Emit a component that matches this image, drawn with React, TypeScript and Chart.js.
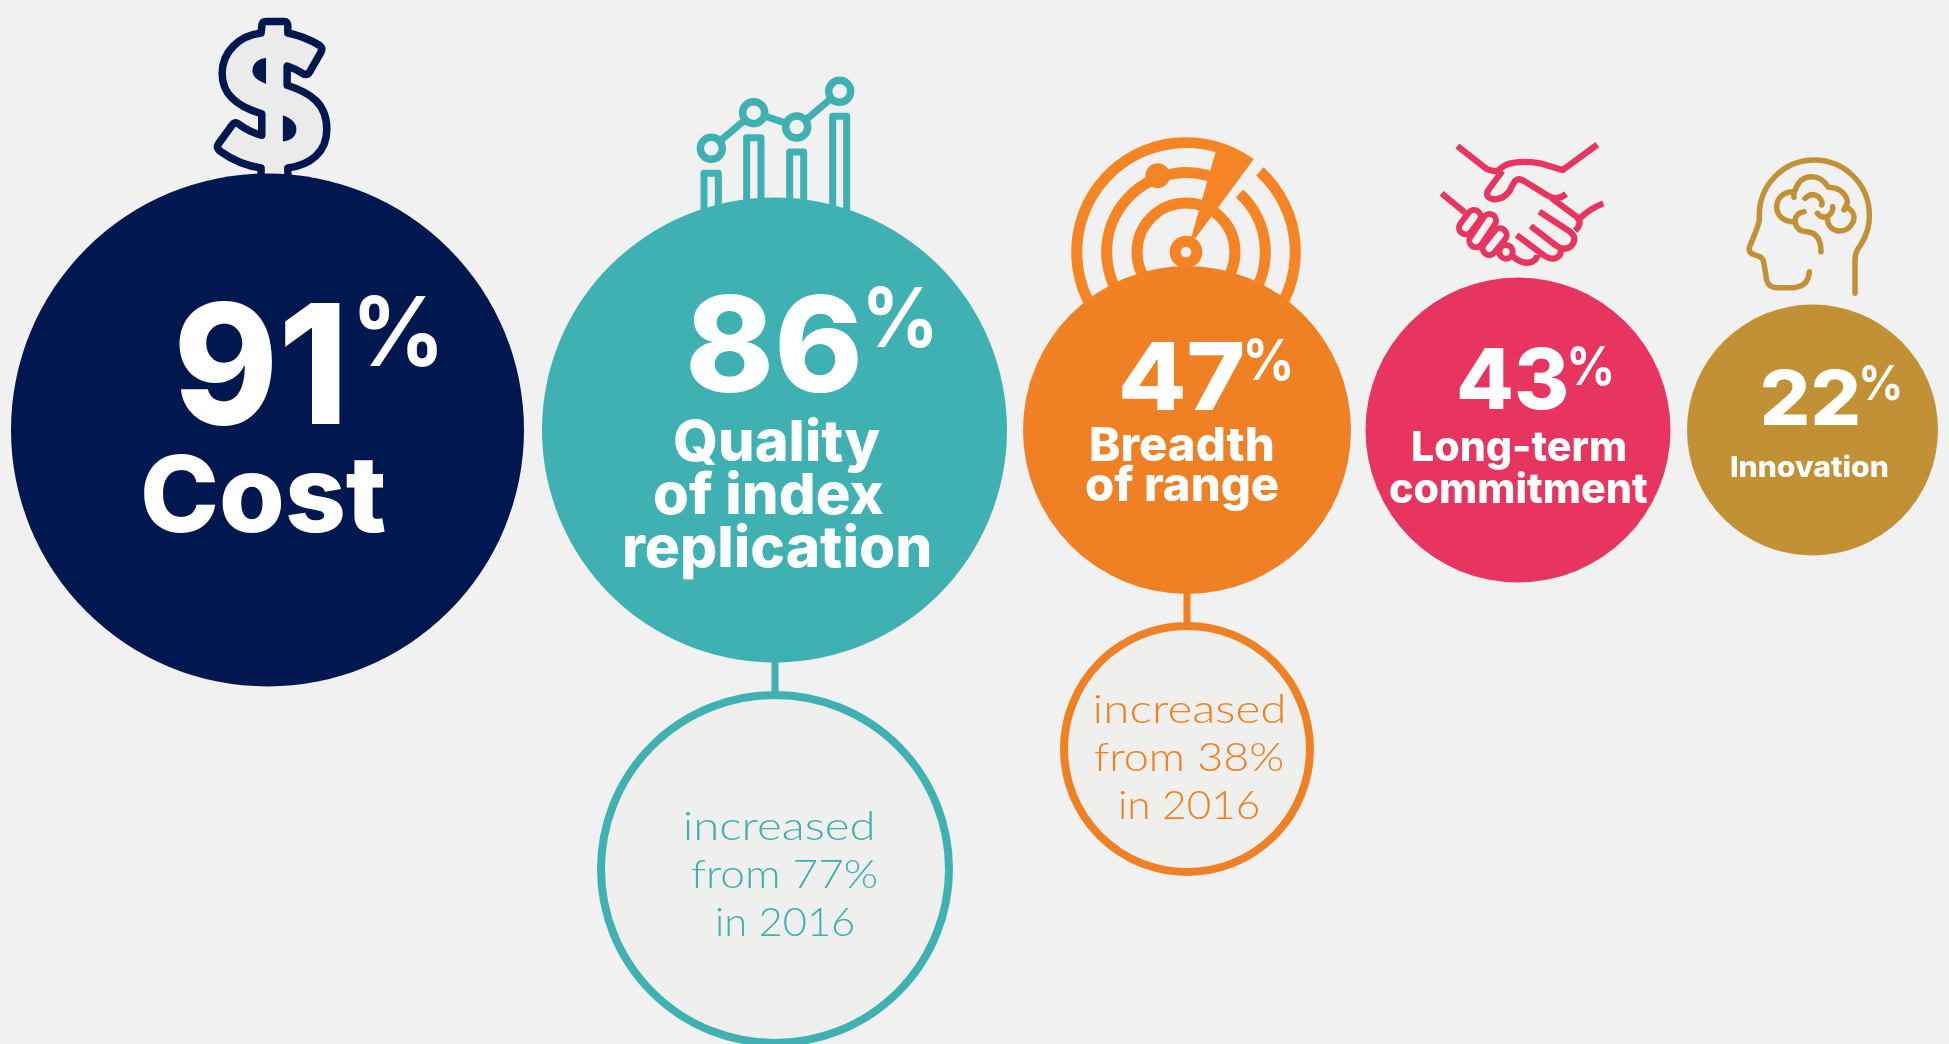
import React, { useEffect, useRef } from "react";
import { Chart, registerables } from "chart.js";

Chart.register(...registerables);

// ---- data ----
const categories = ["Cost", "Quality of index replication", "Breadth of range", "Long-term commitment", "Innovation"];
const shares2018 = [91, 86, 47, 43, 22];
const labelLines = [["Cost"], ["Quality", "of index", "replication"], ["Breadth", "of range"], ["Long-term", "commitment"], ["Innovation"]];
const previousCategories = ["Quality of index replication", "Breadth of range"];
const previousShares = [77, 38];
const previousYear = 2016;

// ---- layout & style ----
const W = 1949;
const H = 1044;
const BG = "#f1f1f1";
const colours = ["#00174f", "#40b1b2", "#ef8024", "#e8355f", "#c29136"];
const centreX = [267.5, 774.5, 1187, 1518, 1812.5];
const centreY = 430;
const radii = [256.5, 232.5, 164, 152.5, 125.5];
const prevCentre = [{ x: 775, y: 869 }, { x: 1187, y: 749 }];
const prevRadius = [174, 123];
const prevStroke = 8;
const prevFill = "#efefed";
const prevColours = [colours[1], colours[2]];

const DISPLAY = 'Inter, "Open Sans", sans-serif';
const LIGHT = 'Lato, "Open Sans", sans-serif';

type Box = { l: number; r: number; b: number; s: number };
const valueBoxes: Box[] = [
  { l: 179, r: 340, b: 424, s: 167 },
  { l: 690, r: 858, b: 392, s: 133 },
  { l: 1122, r: 1243, b: 410, s: 94 },
  { l: 1459, r: 1566, b: 409, s: 84 },
  { l: 1763, r: 1858, b: 425, s: 75 },
];
const pctBoxes: Box[] = [
  { l: 359, r: 437, b: 366, s: 96 },
  { l: 868, r: 932, b: 347, s: 82 },
  { l: 1247, r: 1290, b: 380, s: 56 },
  { l: 1570, r: 1611, b: 385, s: 53 },
  { l: 1862, r: 1900, b: 400, s: 48 },
];
const labelBoxes: Box[][] = [
  [{ l: 144, r: 385, b: 532, s: 106 }],
  [
    { l: 675, r: 880, b: 461, s: 57 },
    { l: 655, r: 883, b: 514, s: 57 },
    { l: 625, r: 929, b: 567, s: 57 },
  ],
  [
    { l: 1091, r: 1273, b: 461, s: 47 },
    { l: 1086, r: 1278, b: 501, s: 47 },
  ],
  [
    { l: 1413, r: 1625, b: 461, s: 41 },
    { l: 1390, r: 1647, b: 503, s: 41 },
  ],
  [{ l: 1731, r: 1888, b: 477, s: 28 }],
];
const prevBoxes: Box[][] = [
  [
    { l: 685, r: 872, b: 840, s: 40 },
    { l: 692, r: 877, b: 888, s: 40 },
    { l: 717, r: 853, b: 936, s: 40 },
  ],
  [
    { l: 1095, r: 1283, b: 723, s: 40 },
    { l: 1095, r: 1283, b: 771, s: 40 },
    { l: 1120, r: 1258, b: 819, s: 40 },
  ],
];

function fitText(ctx: CanvasRenderingContext2D, text: string, box: Box, font: string, colour: string) {
  ctx.save();
  ctx.font = `${font.split("|")[0]} ${box.s}px ${font.split("|")[1]}`;
  ctx.fillStyle = colour;
  ctx.textAlign = "left";
  ctx.textBaseline = "alphabetic";
  const m = ctx.measureText(text);
  const inkL = -m.actualBoundingBoxLeft;
  const inkW = m.actualBoundingBoxRight + m.actualBoundingBoxLeft;
  const sx = (box.r - box.l) / inkW;
  ctx.translate(box.l - inkL * sx, box.b);
  ctx.scale(sx, 1);
  ctx.fillText(text, 0, 0);
  ctx.restore();
}

// ---- pictograms above the bubbles (decoration, in crop coordinates) ----
function xf(d: string, ox: number, oy: number, sx: number, sy: number) {
  const p = new Path2D();
  p.addPath(new Path2D(d), new DOMMatrix([sx, 0, 0, sy, ox, oy]));
  return p;
}

function drawDollar(ctx: CanvasRenderingContext2D) {
  const c = colours[0];
  const k = (d: string) => xf(d, 0, 0, 1 / 2.8, 1 / 2.24);
  const body = k(
    "M733,60 Q733,48 745,48 L795,48 Q806,48 806,60 L806,74 Q855,82 895,102 Q905,108 898,118 L868,160 Q860,170 848,165 Q825,153 804,148 L804,191 C870,208 915,232 915,290 C915,340 870,370 806,376 L806,420 L731,420 L731,376 C690,372 650,358 615,338 Q605,330 612,322 L650,280 Q658,272 668,278 Q700,297 733,303 L733,255 C670,240 622,215 622,165 C622,115 670,80 731,74 Z",
  );
  ctx.fillStyle = "#ebebeb";
  ctx.fill(body);
  ctx.strokeStyle = c;
  ctx.lineWidth = 7.5;
  ctx.lineJoin = "round";
  ctx.stroke(body);
  ctx.fillStyle = c;
  ctx.fill(k("M745,130 L745,188 C720,180 707,172 707,158 C707,142 722,132 745,130 Z"));
  ctx.fill(k("M792,258 L792,317 C815,315 830,305 830,290 C830,274 815,265 792,258 Z"));
}

function drawChartIcon(ctx: CanvasRenderingContext2D) {
  const k = (d: string) => xf(d, 660, 70, 1 / 3, 1 / 3);
  ctx.strokeStyle = colours[1];
  ctx.lineWidth = 7;
  ctx.lineJoin = "round";
  ctx.lineCap = "butt";
  ctx.stroke(k("M132,450 L132,310 L175,310 L175,450"));
  ctx.stroke(k("M260,450 L260,203 L303,203 L303,450"));
  ctx.stroke(k("M389,450 L389,246 L431,246 L431,450"));
  ctx.stroke(k("M518,450 L518,139 L560,139 L560,450"));
  ctx.stroke(k("M180,213 L255,150 M310,137 L380,160 M437,150 L513,86"));
  ctx.lineWidth = 7.5;
  for (const [x, y] of [[154, 235], [281, 128], [410, 171], [539, 64]]) {
    ctx.beginPath();
    ctx.arc(660 + x / 3, 70 + y / 3, 11, 0, Math.PI * 2);
    ctx.stroke();
  }
}

function drawRadar(ctx: CanvasRenderingContext2D) {
  const c = "#f58524";
  const cx = 1050 + 408 / 3;
  const cy = 120 + 396 / 3;
  const rad = (d: number) => (d * Math.PI) / 180;
  ctx.strokeStyle = c;
  ctx.fillStyle = c;
  ctx.lineWidth = 11;
  ctx.lineCap = "butt";
  ctx.beginPath();
  ctx.arc(cx, cy, 328 / 3, rad(-47.5), rad(-54.5));
  ctx.stroke();
  ctx.beginPath();
  ctx.arc(cx, cy, 238 / 3, rad(-47.5), rad(-62));
  ctx.stroke();
  for (const r of [147, 32.5]) {
    ctx.beginPath();
    ctx.arc(cx, cy, r / 3, 0, Math.PI * 2);
    ctx.stroke();
  }
  ctx.fill(xf("M424,352 L497,95 L560,95 L611,118 L437,354 Z", 1050, 120, 1 / 3, 1 / 3));
  ctx.beginPath();
  ctx.arc(1050 + 323 / 3, 120 + 167 / 3, 37 / 3, 0, Math.PI * 2);
  ctx.fill();
}

function drawHandshake(ctx: CanvasRenderingContext2D) {
  const c = colours[3];
  const k = (d: string) => xf(d, 1420, 120, 1 / 3, 1 / 3);
  ctx.strokeStyle = c;
  ctx.lineJoin = "round";
  ctx.lineCap = "butt";
  ctx.lineWidth = 6.3;
  ctx.stroke(k("M112,78 L195,143 Q210,155 240,153"));
  ctx.stroke(k("M225,160 Q245,140 262,133 Q300,120 360,130 L428,150 L532,74"));
  ctx.stroke(k("M247,153 L205,210 Q192,235 225,238 Q260,235 275,200 L285,183 Q297,172 315,185 L380,225 Q410,245 438,222"));
  ctx.stroke(k("M395,235 L470,290 Q490,310 465,332 M480,295 Q510,265 550,250"));
  ctx.stroke(k("M358,275 L450,335 Q475,355 452,380 Q432,393 410,378 L332,318"));
  ctx.stroke(k("M422,388 Q425,405 410,413 Q395,422 370,405 L290,345"));
  ctx.stroke(k("M352,405 Q350,425 325,428 Q310,430 290,418 L278,408"));
  ctx.stroke(k("M65,220 L135,278"));
  const caps = [
    [162, 290, 137, 323],
    [208, 302, 168, 362],
    [240, 345, 208, 385],
    [258, 395, 258, 396],
  ];
  ctx.lineCap = "round";
  ctx.lineWidth = 58 / 3;
  ctx.beginPath();
  for (const [a, b, d, e] of caps) {
    ctx.moveTo(1420 + a / 3, 120 + b / 3);
    ctx.lineTo(1420 + d / 3, 120 + e / 3);
  }
  ctx.stroke();
  ctx.strokeStyle = BG;
  ctx.lineWidth = 22 / 3;
  ctx.beginPath();
  for (const [a, b, d, e] of caps) {
    ctx.moveTo(1420 + a / 3, 120 + b / 3);
    ctx.lineTo(1420 + d / 3, 120 + e / 3);
  }
  ctx.stroke();
}

function drawBrain(ctx: CanvasRenderingContext2D) {
  const k = (d: string) => xf(d, 1740, 140, 1 / 3, 1 / 3);
  ctx.strokeStyle = colours[4];
  ctx.lineWidth = 5.5;
  ctx.lineCap = "round";
  ctx.lineJoin = "round";
  ctx.stroke(k("M345,460 L345,360 Q345,335 362,315 Q390,270 388,225 A165,165 0 0 0 58,225 L58,240 Q55,260 28,322 Q25,340 45,345 L60,350 Q70,355 72,372 L80,420 Q85,442 110,443 L160,443 Q205,440 208,395"));
  ctx.stroke(k("M162,172 L162,155 C125,155 110,180 110,200 C110,225 130,245 158,245"));
  ctx.stroke(k("M165,152 C175,120 195,110 215,110 C240,110 255,125 265,142 C305,142 322,170 322,188 L312,210"));
  ctx.stroke(k("M318,200 C345,215 345,235 338,248 C325,275 305,273 295,273 C275,270 262,255 262,235"));
  ctx.stroke(k("M195,175 Q215,155 235,170 Q250,185 245,195"));
  ctx.stroke(k("M232,220 Q250,240 268,225 Q280,215 278,200"));
  ctx.stroke(k("M192,215 Q165,220 165,245 Q170,275 200,275 Q243,278 243,335"));
}

const decorPlugin = {
  id: "decor",
  beforeDatasetsDraw(chart: any) {
    const { ctx, scales } = chart;
    ctx.save();
    drawDollar(ctx);
    drawChartIcon(ctx);
    drawRadar(ctx);
    drawHandshake(ctx);
    drawBrain(ctx);
    // connectors from each bubble to its "previous year" circle
    previousCategories.forEach((name, i) => {
      const idx = categories.indexOf(name);
      const x = scales.x.getPixelForValue(prevCentre[i].x);
      const y0 = scales.y.getPixelForValue(centreY) + radii[idx] - 2;
      const y1 = scales.y.getPixelForValue(prevCentre[i].y) - prevRadius[i];
      ctx.strokeStyle = prevColours[i];
      ctx.lineWidth = 7;
      ctx.lineCap = "butt";
      ctx.beginPath();
      ctx.moveTo(x, y0);
      ctx.lineTo(x, y1);
      ctx.stroke();
    });
    ctx.restore();
  },
};

const textPlugin = {
  id: "bubbleText",
  afterDatasetsDraw(chart: any) {
    const { ctx } = chart;
    const bold = `800|${DISPLAY}`;
    const light = `300|${LIGHT}`;
    shares2018.forEach((v, i) => {
      fitText(ctx, String(v), valueBoxes[i], bold, "#ffffff");
      fitText(ctx, "%", pctBoxes[i], `700|${DISPLAY}`, "#ffffff");
      labelLines[i].forEach((line, j) => fitText(ctx, line, labelBoxes[i][j], bold, "#ffffff"));
    });
    previousShares.forEach((v, i) => {
      const lines = ["increased", `from ${v}%`, `in ${previousYear}`];
      lines.forEach((line, j) => fitText(ctx, line, prevBoxes[i][j], light, prevColours[i]));
    });
  },
};

export default function App() {
  const ref = useRef<HTMLCanvasElement>(null);
  useEffect(() => {
    document.body.style.margin = "0";
    document.body.style.background = BG;
    const chart = new Chart(ref.current as HTMLCanvasElement, {
      type: "bubble",
      data: {
        datasets: [
          {
            label: "Share of respondents",
            data: shares2018.map((v, i) => ({ x: centreX[i], y: centreY, r: radii[i], v })) as any,
            backgroundColor: colours,
            borderWidth: 0,
            clip: false as any,
          },
          {
            label: "Share in 2016",
            data: previousShares.map((v, i) => ({ x: prevCentre[i].x, y: prevCentre[i].y, r: prevRadius[i], v })) as any,
            backgroundColor: prevFill,
            borderColor: prevColours,
            borderWidth: prevStroke,
            clip: false as any,
          },
        ],
      },
      options: {
        animation: false,
        responsive: false,
        devicePixelRatio: 1,
        events: [],
        layout: { padding: 0, autoPadding: false },
        plugins: { legend: { display: false }, tooltip: { enabled: false }, title: { display: false } },
        scales: {
          x: { type: "linear", display: false, min: 0, max: W },
          y: { type: "linear", display: false, min: 0, max: H, reverse: true },
        },
      },
      plugins: [decorPlugin, textPlugin],
    });
    return () => chart.destroy();
  }, []);
  return (
    <div style={{ position: "fixed", inset: 0, background: BG, overflow: "hidden" }}>
      <canvas ref={ref} width={W} height={H} style={{ display: "block", width: W, height: H }} />
    </div>
  );
}
